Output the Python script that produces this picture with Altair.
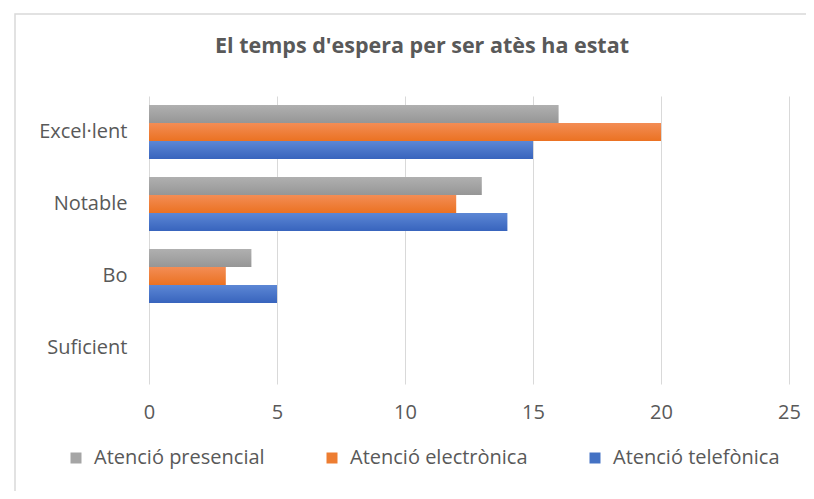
import altair as alt
import pandas as pd

title_text = "El temps d'espera per ser atès ha estat"
categories = ["Excel·lent", "Notable", "Bo", "Suficient"]
series = ["Atenció presencial", "Atenció electrònica", "Atenció telefònica"]
presencial = [16, 13, 4, 0]
electronica = [20, 12, 3, 0]
telefonica = [15, 14, 5, 0]
x_ticks = [0, 5, 10, 15, 20, 25]
colors = ["#a5a5a5", "#ed7d31", "#4472c4"]
grad_top = ["#b0b0b0", "#f38d55", "#5c87d5"]
grad_bottom = ["#969696", "#eb7222", "#3864bd"]

rows = []
for vals, s in zip([presencial, electronica, telefonica], series):
    for c, v in zip(categories, vals):
        rows.append({"cat": c, "serie": s, "val": v})
df = pd.DataFrame(rows)

FONT = "Open Sans"
GRAY = "#595959"
FS = 20


def gradient(top, bottom):
    return {"gradient": "linear", "x1": 0, "y1": 0, "x2": 0, "y2": 1,
            "stops": [{"offset": 0, "color": top}, {"offset": 1, "color": bottom}]}


conds = [
    {"test": f"datum.serie === '{s}'", "value": gradient(t, b)}
    for s, t, b in zip(series, grad_top, grad_bottom)
]

bars = alt.Chart(df).mark_bar().encode(
    y=alt.Y("cat:N", sort=categories,
            scale=alt.Scale(paddingInner=0.25, paddingOuter=0.125),
            axis=alt.Axis(title=None, ticks=False, domain=False, labelPadding=22,
                          labelFontSize=FS, labelColor=GRAY, labelFont=FONT)),
    yOffset=alt.YOffset("serie:N", sort=series, scale=alt.Scale(paddingInner=0, paddingOuter=0)),
    x=alt.X("val:Q", scale=alt.Scale(domain=[0, 25], nice=False),
            axis=alt.Axis(title=None, values=x_ticks, ticks=False, domain=False,
                          grid=True, gridColor="#d9d9d9", labelPadding=18,
                          labelFlush=False,
                          labelFontSize=FS, labelColor=GRAY, labelFont=FONT)),
    color=alt.Color("serie:N", sort=series,
                    scale=alt.Scale(domain=series, range=colors),
                    condition=conds,
                    legend=alt.Legend(title=None, orient="none", direction="horizontal",
                                      legendX=-83, legendY=352,
                                      symbolType="square", symbolSize=121,
                                      symbolStrokeWidth=0, labelFontSize=FS,
                                      labelColor=GRAY, labelFont=FONT, labelLimit=400,
                                      columnPadding=57, labelOffset=8)),
)

frame = alt.Chart(alt.Data(values=[{}])).mark_rect(
    fillOpacity=0, stroke="#d9d9d9", strokeWidth=1.5
).encode(
    x=alt.value(-134), x2=alt.value(700),
    y=alt.value(-82), y2=alt.value(420),
)

title = alt.Chart(alt.Data(values=[{"t": title_text}])).mark_text(
    font=FONT, fontSize=21.5, fontWeight="bold", color=GRAY, align="center", baseline="middle"
).encode(
    text="t:N", x=alt.value(273), y=alt.value(-49),
)

chart = alt.layer(frame, bars, title).properties(
    width=640, height=288,
    autosize=alt.AutoSizeParams(type="none"),
    padding={"left": 141, "top": 88, "right": 17, "bottom": 107},
).configure_view(stroke=None)

chart.save("out.html", embed_options={"renderer": "svg", "actions": False})
